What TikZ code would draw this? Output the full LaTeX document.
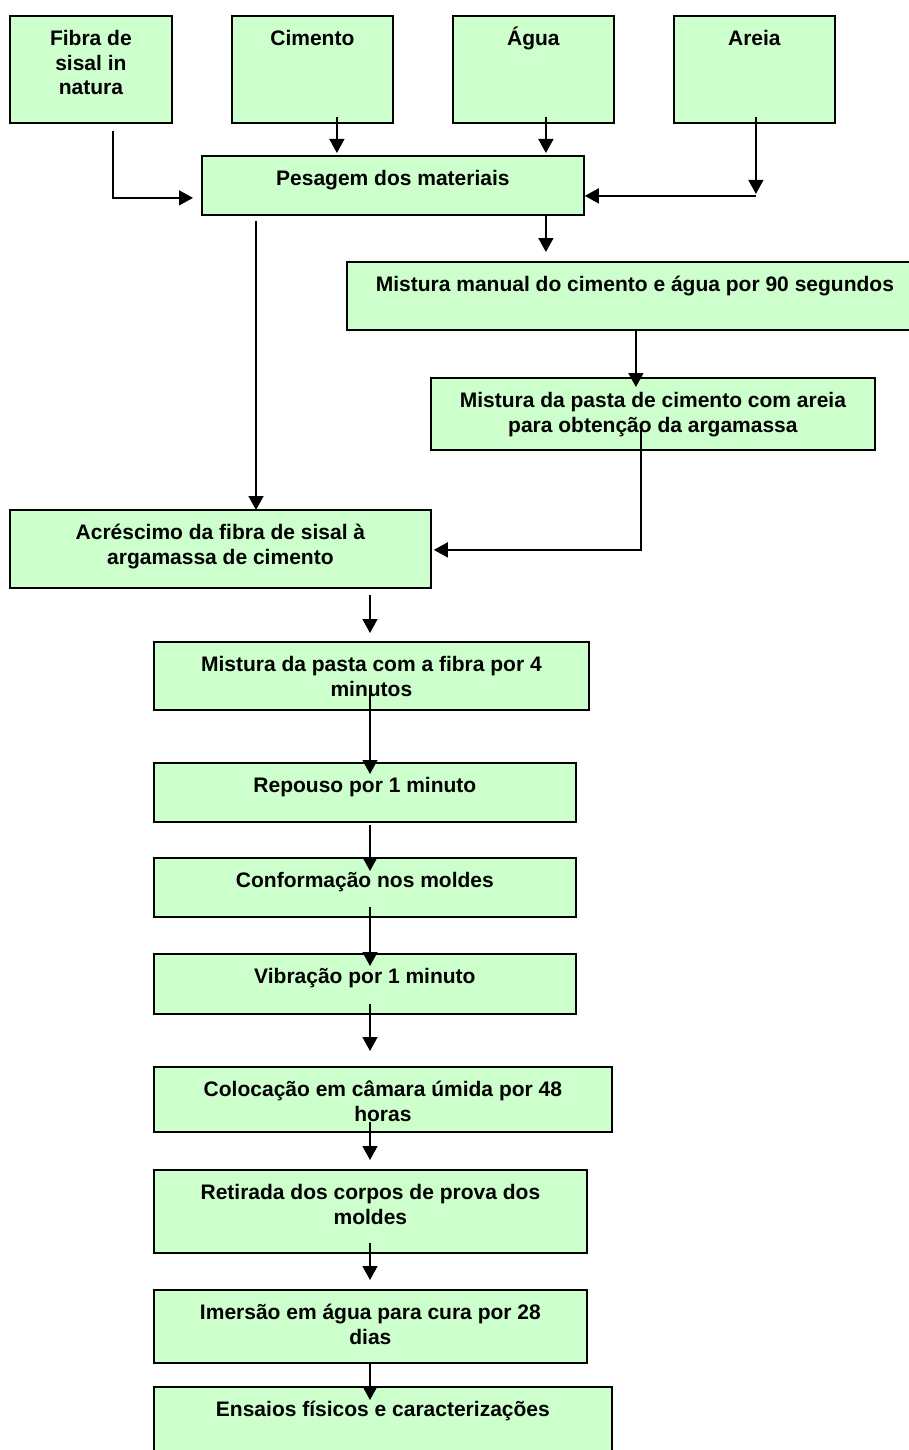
\documentclass[tikz,border=0pt]{standalone}
\usepackage{fontspec}
\setmainfont{Liberation Sans}
\usetikzlibrary{arrows.meta,calc}
\definecolor{boxgreen}{HTML}{CCFFCC}
\newcommand{\firstline}{\rule{0pt}{20pt}}
\begin{document}
\begin{tikzpicture}[x=1pt,y=-1pt,
  stagebox/.style={draw=black,line width=1.8pt,fill=boxgreen,inner sep=0pt,anchor=north west},
  stagetext/.style={font=\bfseries\fontsize{21}{24.5}\selectfont,align=center,inner sep=0pt,anchor=north},
  arr/.style={line width=1.5pt,-{Triangle[length=14pt,width=15pt]}},
  plain/.style={line width=1.5pt}]
\clip (0,0) rectangle (909,1450);

% stage boxes (top-left corner, width, height)
\node[stagebox,minimum width=162,minimum height=107] (fib)  at (9,15)    {};
\node[stagebox,minimum width=161,minimum height=107] (cim)  at (231,15)  {};
\node[stagebox,minimum width=161,minimum height=107] (agua) at (452,15)  {};
\node[stagebox,minimum width=161,minimum height=107] (are)  at (673,15)  {};
\node[stagebox,minimum width=382,minimum height=59]  (pes)  at (201,155) {};
\node[stagebox,minimum width=576,minimum height=68]  (mman) at (346,261) {};
\node[stagebox,minimum width=444,minimum height=72]  (mpas) at (430,377) {};
\node[stagebox,minimum width=421,minimum height=78]  (acr)  at (9,509)   {};
\node[stagebox,minimum width=435,minimum height=68]  (mfib) at (153,641) {};
\node[stagebox,minimum width=422,minimum height=59]  (rep)  at (153,762) {};
\node[stagebox,minimum width=422,minimum height=59]  (conf) at (153,857) {};
\node[stagebox,minimum width=422,minimum height=60]  (vib)  at (153,953) {};
\node[stagebox,minimum width=458,minimum height=65]  (col)  at (153,1066) {};
\node[stagebox,minimum width=433,minimum height=83]  (ret)  at (153,1169) {};
\node[stagebox,minimum width=433,minimum height=73]  (ime)  at (153,1289) {};
\node[stagebox,minimum width=458,minimum height=69]  (ens)  at (153,1386) {};

% labels, first baseline about 30.5 below each box top
\node[stagetext] (fib-t)  at ($(fib.north)+(0,10.5)$)  {\firstline Fibra de\\sisal in\\natura};
\node[stagetext] (cim-t)  at ($(cim.north)+(0,10.5)$)  {\firstline Cimento};
\node[stagetext] (agua-t) at ($(agua.north)+(0,10.5)$) {\firstline Água};
\node[stagetext] (are-t)  at ($(are.north)+(0,10.5)$)  {\firstline Areia};
\node[stagetext] (pes-t)  at ($(pes.north)+(0,10.5)$)  {\firstline Pesagem dos materiais};
\node[stagetext] (mman-t) at ($(mman.north)+(0,10.5)$) {\firstline Mistura manual do cimento e água por 90 segundos};
\node[stagetext] (mpas-t) at ($(mpas.north)+(0,10.5)$) {\firstline Mistura da pasta de cimento com areia\\para obtenção da argamassa};
\node[stagetext] (acr-t)  at ($(acr.north)+(0,10.5)$)  {\firstline Acréscimo da fibra de sisal à\\argamassa de cimento};
\node[stagetext] (mfib-t) at ($(mfib.north)+(0,10.5)$) {\firstline Mistura da pasta com a fibra por 4\\minutos};
\node[stagetext] (rep-t)  at ($(rep.north)+(0,10.5)$)  {\firstline Repouso por 1 minuto};
\node[stagetext] (conf-t) at ($(conf.north)+(0,10.5)$) {\firstline Conformação nos moldes};
\node[stagetext] (vib-t)  at ($(vib.north)+(0,10.5)$)  {\firstline Vibração por 1 minuto};
\node[stagetext] (col-t)  at ($(col.north)+(0,10.5)$)  {\firstline Colocação em câmara úmida por 48\\horas};
\node[stagetext] (ret-t)  at ($(ret.north)+(0,10.5)$)  {\firstline Retirada dos corpos de prova dos\\moldes};
\node[stagetext] (ime-t)  at ($(ime.north)+(0,10.5)$)  {\firstline Imersão em água para cura por 28\\dias};
\node[stagetext] (ens-t)  at ($(ens.north)+(0,10.5)$)  {\firstline Ensaios físicos e caracterizações};

% raw materials into weighing
\draw[arr] ($(fib.south)+(22,7)$) |- ($(pes.west)+(-8,12.5)$);
\coordinate (c2) at ($(cim.south)+(24.5,-7)$);
\draw[arr] (c2) -- ($(c2 |- pes.north)+(0,-2)$);
\coordinate (c3) at ($(agua.south)+(12.5,-7)$);
\draw[arr] (c3) -- ($(c3 |- pes.north)+(0,-2)$);
\coordinate (c4) at ($(are.south)+(1.5,-7)$);
\coordinate (k)  at ($(pes.east)+(0,10.5)$);
\draw[arr] (c4) -- ($(c4 |- k)+(0,-2)$);
\draw[arr] (c4 |- k) -- (k);

% mixing branch
\coordinate (c6) at (c3 |- pes.south);
\draw[arr] (c6) -- ($(c6 |- mman.north)+(0,-9)$);
\coordinate (c7) at ($(pes.south west)+(55,5)$);
\draw[arr] (c7) -- ($(c7 |- acr.north)+(0,1)$);
\coordinate (c8) at ($(mman.south)+(1,0)$);
\draw[arr] (c8) -- ($(c8 |- mpas.north)+(0,10)$);
\coordinate (c9) at ($(mpas.south)+(-12,-21)$);
\draw[arr] (c9) |- ($(acr.east)+(2,1)$);

% main sequence
\coordinate (sp) at (370,0);
\draw[arr] ($(sp |- acr.south)+(0,6)$)    -- ($(sp |- mfib.north)+(0,-8)$);
\draw[arr] ($(sp |- mfib.south)+(0,-19)$) -- ($(sp |- rep.north)+(0,12)$);
\draw[arr] ($(sp |- rep.south)+(0,2)$)    -- ($(sp |- conf.north)+(0,14)$);
\draw[arr] ($(sp |- conf.south)+(0,-11)$) -- ($(sp |- vib.north)+(0,13)$);
\draw[arr] ($(sp |- vib.south)+(0,-11)$)  -- ($(sp |- col.north)+(0,-15)$);
\draw[arr] ($(sp |- col.south)+(0,-11)$)  -- ($(sp |- ret.north)+(0,-9)$);
\draw[arr] ($(sp |- ret.south)+(0,-11)$)  -- ($(sp |- ime.north)+(0,-9)$);
\draw[arr] (sp |- ime.south)              -- ($(sp |- ens.north)+(0,14)$);
\end{tikzpicture}
\end{document}
